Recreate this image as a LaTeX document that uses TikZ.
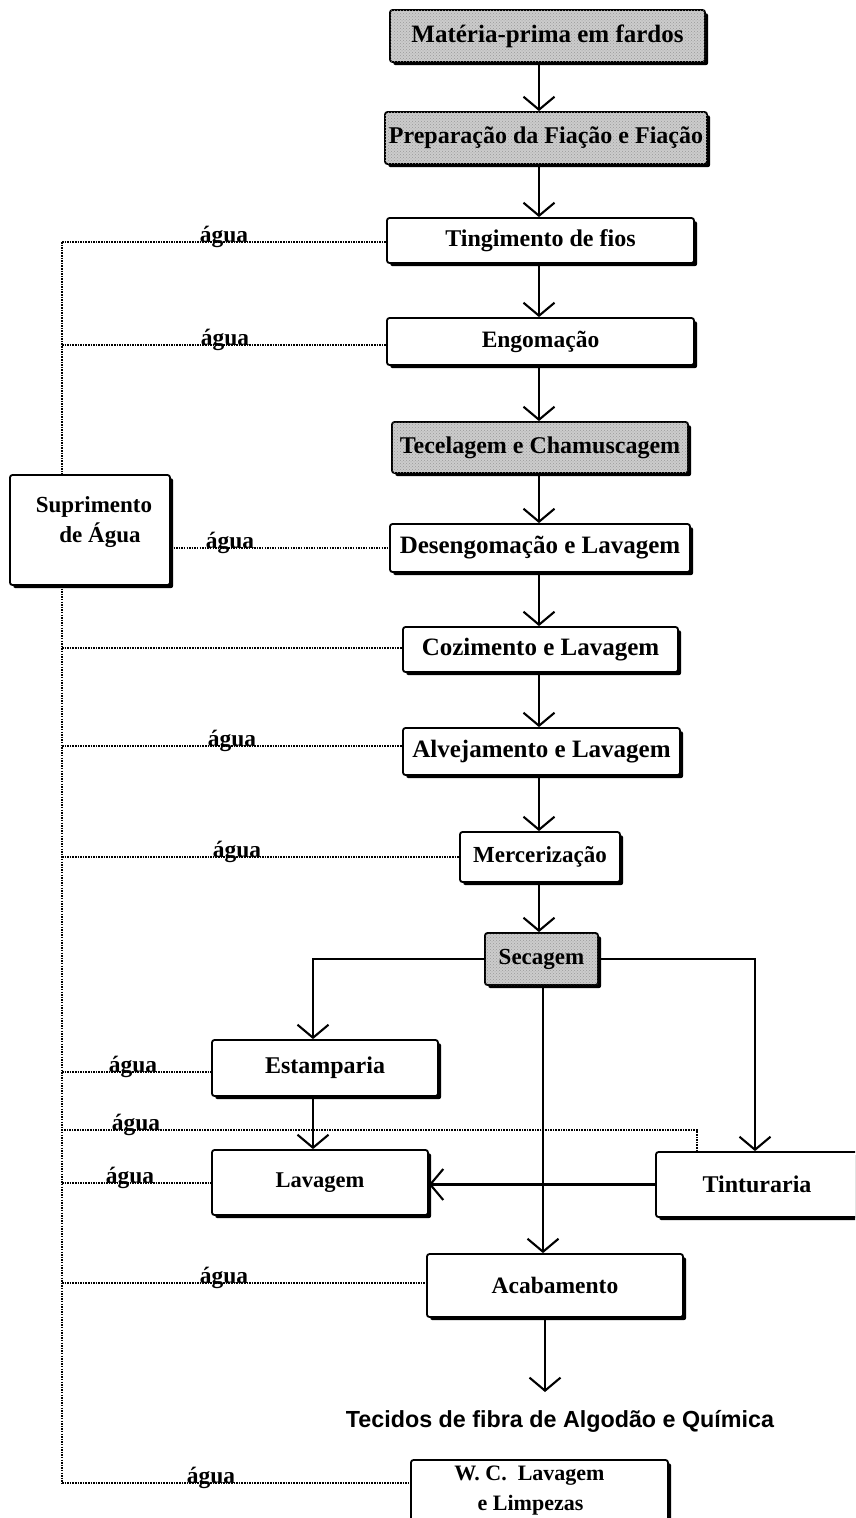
\documentclass[tikz,border=0pt]{standalone}
\usepackage{fontspec}
\setmainfont{Liberation Serif}
\newfontfamily\sansf{Liberation Sans}
\usetikzlibrary{arrows.meta,shadows,patterns}
\begin{document}
\begin{tikzpicture}[x=1pt,y=-1pt,
  box/.style={draw, line width=1.8pt, rounded corners=2.5pt, fill=white, inner sep=0pt,
    drop shadow={shadow xshift=3.2pt, shadow yshift=-3.2pt, opacity=1, fill=black}},
  shaded/.style={box, fill=black!20, postaction={pattern=crosshatch dots, pattern color=black!40}},
  fs/.style={font=\bfseries\fontsize{#1}{30}\selectfont},
  flow/.style={line width=2.1pt, -{Straight Barb[length=13pt,width=31pt,line width=2.1pt]}},
  water/.style={line width=1.7pt, dash pattern=on 1.5pt off 1.1pt},
  lbl/.style={font=\bfseries\fontsize{23.5}{26}\selectfont, anchor=base, inner sep=0pt}
]
\useasboundingbox (0,0) rectangle (855,1518);
\clip (0,0) rectangle (855,1518);

% process steps
\node[shaded, minimum width=315pt, minimum height=52pt, fs=25] (mat)  at (547.5,36)   {Matéria-prima em fardos};
\node[shaded, minimum width=322pt, minimum height=52pt, fs=24] (prep) at (546,138)    {Preparação da Fiação e Fiação};
\node[box,    minimum width=307pt, minimum height=45pt, fs=24] (ting) at (540.5,240.5) {Tingimento de fios};
\node[box,    minimum width=307pt, minimum height=47pt, fs=23.5] (engo) at (540.5,341.5) {Engomação};
\node[shaded, minimum width=296pt, minimum height=51pt, fs=24] (tece) at (540,447.5)  {Tecelagem e Chamuscagem};
\node[box,    minimum width=300pt, minimum height=48pt, fs=25] (dese) at (540,548)  {Desengomação e Lavagem};
\node[box,    minimum width=275pt, minimum height=45pt, fs=25] (cozi) at (540.5,649.5) {Cozimento e Lavagem};
\node[box,    minimum width=277pt, minimum height=47pt, fs=25] (alve) at (541.5,751.5) {Alvejamento e Lavagem};
\node[box,    minimum width=160pt, minimum height=50pt, fs=23] (merc) at (540,857)    {Mercerização};
\node[shaded, minimum width=113pt, minimum height=52pt, fs=23] (seca) at (541.5,959)  {Secagem};
\node[box,    minimum width=226pt, minimum height=56pt, fs=24] (esta) at (325,1068) {Estamparia};
\node[box,    minimum width=216pt, minimum height=65pt, fs=22.5] (lava) at (320,1182.5) {Lavagem};
\node[box,    minimum width=202pt, minimum height=65pt, fs=24] (tint) at (757,1184.5) {Tinturaria};
\node[box,    minimum width=256pt, minimum height=63pt, fs=23.5] (acab) at (555,1285.5) {Acabamento};
\node[box,    minimum width=257pt, minimum height=61pt, fs=22, align=center] (wc) at (539.5,1490.5)
  {W.\ C.\ \ Lavagem\hspace*{20pt}\\e Limpezas\hspace*{18pt}};

% water supply
\node[box, minimum width=160pt, minimum height=110pt] (sup) at (90,530) {};
\node[fs=23, align=center, inner sep=0pt] (suptext) at (94,522) {Suprimento\\\hspace*{12pt}de Água};

% final product
\node[font=\sansf\bfseries\fontsize{23.3}{27}\selectfont, inner sep=0pt] (tec) at (560,1421)
  {Tecidos de fibra de Algodão e Química};
\coordinate (tecin) at (545,1392);

% connector columns
\coordinate (cx) at (539,0);
\coordinate (sx) at (543,0);
\coordinate (ax) at (545,0);
\coordinate (ex) at (313,0);
\coordinate (tx) at (755,0);
\coordinate (wx) at (697,0);
\coordinate (trunk) at (62,0);

% main flow
\draw[flow] (mat.south -| cx)  -- (prep.north -| cx);
\draw[flow] (prep.south -| cx) -- (ting.north -| cx);
\draw[flow] (ting.south -| cx) -- (engo.north -| cx);
\draw[flow] (engo.south -| cx) -- (tece.north -| cx);
\draw[flow] (tece.south -| cx) -- (dese.north -| cx);
\draw[flow] (dese.south -| cx) -- (cozi.north -| cx);
\draw[flow] (cozi.south -| cx) -- (alve.north -| cx);
\draw[flow] (alve.south -| cx) -- (merc.north -| cx);
\draw[flow] (merc.south -| cx) -- (seca.north -| cx);
\draw[flow] (seca.west) -| (esta.north -| ex);
\draw[flow] (seca.east) -| (tint.north -| tx);
\draw[flow] (seca.south -| sx) -- (acab.north -| sx);
\draw[flow] (esta.south -| ex) -- (lava.north -| ex);
\draw[flow] (tint.west) -- (tint.west -| lava.east);
\draw[flow] (acab.south -| ax) -- (tecin);

% water lines
\coordinate (wting) at (0,242);
\coordinate (wengo) at (0,345);
\coordinate (wdese) at (0,548);
\coordinate (wcozi) at (0,648);
\coordinate (walve) at (0,746);
\coordinate (wmerc) at (0,857);
\coordinate (westa) at (0,1072);
\coordinate (wtint) at (0,1130);
\coordinate (wlava) at (0,1183);
\coordinate (wacab) at (0,1283);
\coordinate (wwc)   at (0,1483);

\draw[water] (trunk |- wting) -- (sup.north -| trunk);
\draw[water] (sup.south -| trunk) -- (trunk |- wwc);
\foreach \n in {ting,engo,cozi,alve,merc,esta,lava,acab,wc}
  \draw[water] (trunk |- w\n) -- (\n.west |- w\n);
\draw[water] (sup.east |- wdese) -- (dese.west |- wdese);
\draw[water] (tint.north -| wx) |- (trunk |- wtint);

\foreach \n/\lx in {ting/224,engo/225,dese/230,alve/232,merc/237,esta/133,tint/136,lava/130,acab/224,wc/211}
  \node[lbl] (agua\n) at (\lx,0 |- w\n) {água};
\end{tikzpicture}
\end{document}
